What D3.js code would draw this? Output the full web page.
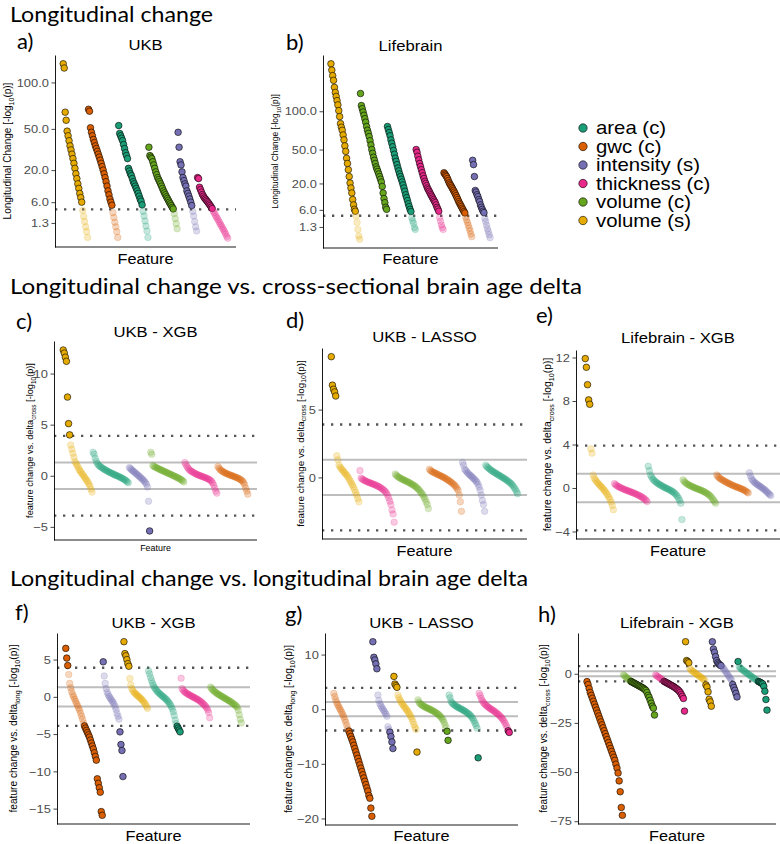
<!DOCTYPE html>
<html><head><meta charset="utf-8">
<script src="https://cdn.jsdelivr.net/npm/d3@7"></script>
<style>body{margin:0;background:#fff}</style>
</head><body>
<svg id="chart" width="780" height="844" xmlns="http://www.w3.org/2000/svg"></svg>
<script>
// ---------- categories ----------
const groupKeys   = ["area", "gwc", "intensity", "thickness", "volc", "vols"];
const groupLabels = ["area (c)", "gwc (c)", "intensity (s)", "thickness (c)", "volume (c)", "volume (s)"];
const groupColors = ["#1B9E77", "#D95F02", "#7570B3", "#E7298A", "#66A61E", "#E6AB02"];

const sectionTitles = ["Longitudinal change",
  "Longitudinal change vs. cross-sectional brain age delta",
  "Longitudinal change vs. longitudinal brain age delta"];
const panelLetters = ["a)", "b)", "c)", "d)", "e)", "f)", "g)", "h)"];
const panelTitles = ["UKB", "Lifebrain", "UKB - XGB", "UKB - LASSO", "Lifebrain - XGB", "UKB - XGB", "UKB - LASSO", "Lifebrain - XGB"];

// thresholds
const sigLong = 4.0;      // dotted line, panels a-b
const sigDelta = 3.9;     // dotted lines, panels c-h
const nominal = 1.3;      // solid grey lines, panels c-h

// tick labels
const ticks_ab = [1.3, 6, 20, 50, 100];
const ticks_c = [-5, 0, 5, 10];
const ticks_d = [0, 5];
const ticks_e = [-4, 0, 4, 8, 12];
const ticks_f = [-15, -10, -5, 0, 5];
const ticks_g = [-20, -10, 0, 10];
const ticks_h = [-75, -50, -25, 0];

// ---------- panel a: UKB longitudinal change ----------
const a_order = ["vols", "gwc", "area", "volc", "intensity", "thickness"];
const a_vols = [125, 119, 66, 58, 48, 44, 40, 36, 33, 30, 27, 24, 21, 18, 15.5, 13, 11, 9, 7.5, 6, 3.7, 2.4, 1.5, 0.8, 0.35, 0.05];
const a_gwc = [69, 67, 51, 47, 44, 41, 38.5, 36, 34, 32, 30, 28, 26, 24, 22, 20, 18, 16, 14, 12, 10, 8.5, 7, 6, 5.1, 3.2, 2.2, 1.4, 0.8, 0.35, 0.05];
const a_area = [53, 46, 44, 42, 40, 37, 34, 31, 29, 27, 21, 19.5, 18, 17, 15.5, 14, 13, 12, 11, 10, 9, 8, 7, 6.3, 5.2, 3.5, 2.5, 1.6, 0.9, 0.4, 0.05];
const a_volc = [35, 29, 28, 27, 25, 23, 21, 19, 17.5, 16, 15, 14, 13, 12, 11, 10, 9.2, 8.5, 7.8, 7.2, 6.6, 6, 5.5, 5, 4.5, 4.1, 3, 2, 1.2, 0.6];
const a_intensity = [47, 35, 25, 23, 19, 16, 14.5, 13, 12, 10, 9, 8, 7, 6, 5, 3.5, 2.5, 1.5, 0.8, 0.4];
const a_thickness = [16, 15.5, 11.5, 10.5, 9.5, 8.6, 8, 7.4, 7, 6.6, 6.2, 5.8, 5.4, 5, 4.6, 4.2, 3.6, 3.2, 2.8, 2.4, 2.1, 1.8, 1.5, 1.2, 1.0, 0.8, 0.6, 0.45, 0.3, 0.18, 0.08, 0.03];

// ---------- panel b: Lifebrain longitudinal change ----------
const b_order = ["vols", "volc", "area", "thickness", "gwc", "intensity"];
const b_vols = [186, 173, 162, 153, 140, 131, 124, 117, 110, 101, 92, 82, 77, 73, 67, 61, 54, 48, 41, 36, 30.5, 25, 20.3, 17, 14, 10.5, 8, 6.2, 5.5, 3.9, 2.2, 0.9, 0.2, 0.04];
const b_volc = [129, 109, 104, 99, 94, 89, 84, 78, 73, 69, 65, 60, 55, 50, 46, 42, 39, 36, 33, 31, 29, 27, 25, 23, 21, 18, 14, 11, 9, 7, 6.2];
const b_area = [78, 74, 70, 66, 61, 57, 53, 49, 45, 41, 38, 35, 32, 29.5, 27, 25, 23, 21, 19, 17, 15, 13, 11.5, 10, 8.5, 7.3, 6.2, 5.4, 3.4, 2.6, 2, 1.2, 0.9];
const b_thickness = [50, 47, 43, 39.4, 36, 33.3, 30.5, 28, 25.5, 23.5, 21.5, 20, 18.5, 17, 16, 15, 14, 13, 12.2, 11.3, 10.5, 9.7, 9, 8, 7, 6.3, 5.5, 3.5, 2.5, 1.7, 1.2, 0.9];
const b_gwc = [28, 27, 26, 25, 23.5, 22, 20.5, 19.5, 18.5, 17.5, 16.5, 15.5, 14.5, 13.5, 12.5, 11.5, 10.5, 9.5, 8.7, 8, 7.3, 6.6, 6, 5.4, 4.9, 3.6, 2.8, 2.2, 1.6, 1.1, 0.7, 0.35, 0.15];
const b_intensity = [39, 35, 25, 15.5, 14.5, 13, 12, 10.5, 9.5, 8, 7, 6.2, 5.5, 5, 3.2, 2.4, 1.6, 1.0, 0.6, 0.3, 0.1];

// ---------- panel c: UKB - XGB, vs cross-sectional delta ----------
const c_order = ["vols", "area", "intensity", "volc", "thickness", "gwc"];
const c_vols = [12.3, 12.0, 11.6, 11.2, 7.7, 5.1, 4.0, 3.0, 2.6, 2.2, 1.8, 1.4, 1.2, 1.0, 0.8, 0.6, 0.45, 0.3, 0.15, 0, -0.15, -0.3, -0.45, -0.6, -0.8, -1.0, -1.3, -1.6];
const c_area = [2.3, 2.1, 1.7, 1.4, 1.2, 1.05, 0.95, 0.87, 0.8, 0.73, 0.66, 0.6, 0.54, 0.48, 0.42, 0.36, 0.31, 0.26, 0.21, 0.16, 0.11, 0.06, 0.02, -0.03, -0.08, -0.13, -0.18, -0.23, -0.29, -0.35, -0.42, -0.5, -0.59, -0.68];
const c_intensity = [0.8, 0.7, 0.6, 0.5, 0.42, 0.33, 0.24, 0.15, 0.06, -0.04, -0.13, -0.22, -0.32, -0.42, -0.53, -0.66, -0.82, -1.1, -2.5, -5.4];
const c_volc = [2.3, 2.1, 1.0, 0.92, 0.86, 0.8, 0.75, 0.7, 0.65, 0.6, 0.55, 0.5, 0.45, 0.41, 0.36, 0.31, 0.26, 0.22, 0.17, 0.12, 0.07, 0.02, -0.03, -0.08, -0.13, -0.18, -0.23, -0.29, -0.35, -0.42, -0.5, -0.6];
const c_thickness = [1.3, 1.1, 0.9, 0.75, 0.62, 0.52, 0.45, 0.38, 0.32, 0.26, 0.2, 0.15, 0.1, 0.06, 0.02, -0.02, -0.06, -0.1, -0.14, -0.18, -0.22, -0.27, -0.32, -0.38, -0.45, -0.55, -0.7, -0.9, -1.2, -1.5, -1.7];
const c_gwc = [0.9, 0.75, 0.62, 0.52, 0.45, 0.38, 0.32, 0.27, 0.22, 0.17, 0.13, 0.09, 0.05, 0.01, -0.03, -0.07, -0.11, -0.15, -0.2, -0.25, -0.3, -0.36, -0.43, -0.52, -0.65, -0.85, -1.2, -1.5, -1.8];

// ---------- panel d: UKB - LASSO, vs cross-sectional delta ----------
const d_order = ["vols", "thickness", "volc", "gwc", "intensity", "area"];
const d_vols = [8.9, 6.8, 6.5, 6.3, 6.0, 1.6, 1.3, 0.9, 0.75, 0.65, 0.55, 0.45, 0.35, 0.25, 0.15, 0.05, -0.1, -0.25, -0.4, -0.55, -0.7, -0.9, -1.1, -1.3, -1.55, -1.8];
const d_thickness = [0.5, -0.05, -0.12, -0.18, -0.22, -0.26, -0.3, -0.34, -0.37, -0.4, -0.43, -0.46, -0.5, -0.53, -0.56, -0.6, -0.64, -0.68, -0.73, -0.78, -0.84, -0.9, -0.97, -1.05, -1.15, -1.3, -1.5, -1.75, -2.0, -2.4, -2.7, -3.3];
const d_volc = [0.25, 0.15, 0.08, 0.02, -0.03, -0.08, -0.12, -0.16, -0.2, -0.24, -0.28, -0.32, -0.36, -0.4, -0.45, -0.5, -0.55, -0.6, -0.66, -0.72, -0.8, -0.88, -0.97, -1.07, -1.18, -1.3, -1.45, -1.6, -1.8, -2.0, -2.3];
const d_gwc = [0.6, 0.5, 0.45, 0.4, 0.36, 0.32, 0.28, 0.24, 0.2, 0.16, 0.12, 0.08, 0.04, 0, -0.05, -0.1, -0.15, -0.2, -0.26, -0.32, -0.38, -0.45, -0.52, -0.6, -0.7, -0.82, -0.95, -1.3, -1.8, -2.5];
const d_intensity = [1.1, 0.9, 0.6, 0.5, 0.4, 0.3, 0.22, 0.15, 0.08, 0, -0.08, -0.16, -0.25, -0.35, -0.5, -0.7, -0.95, -1.3, -1.7, -2.0, -2.5];
const d_area = [0.9, 0.8, 0.72, 0.65, 0.58, 0.52, 0.46, 0.41, 0.36, 0.31, 0.26, 0.21, 0.16, 0.11, 0.06, 0.01, -0.04, -0.09, -0.14, -0.2, -0.26, -0.32, -0.39, -0.46, -0.55, -0.65, -0.77, -0.9, -1.05, -1.2];

// ---------- panel e: Lifebrain - XGB, vs cross-sectional delta ----------
const e_order = ["vols", "thickness", "area", "volc", "gwc", "intensity"];
const e_vols = [11.9, 11.1, 9.5, 8.1, 7.7, 3.6, 3.2, 1.2, 0.9, 0.75, 0.6, 0.48, 0.36, 0.25, 0.14, 0.03, -0.1, -0.22, -0.36, -0.5, -0.66, -0.85, -1.05, -1.3, -1.6, -2.0];
const e_thickness = [0.4, 0.3, 0.22, 0.15, 0.1, 0.05, 0, -0.05, -0.1, -0.14, -0.18, -0.22, -0.26, -0.3, -0.34, -0.38, -0.42, -0.46, -0.5, -0.55, -0.6, -0.65, -0.7, -0.76, -0.82, -0.88, -0.95, -1.03, -1.12, -1.25];
const e_area = [2.0, 1.6, 1.2, 1.0, 0.85, 0.72, 0.62, 0.54, 0.46, 0.39, 0.32, 0.26, 0.2, 0.14, 0.08, 0.03, -0.02, -0.07, -0.12, -0.17, -0.23, -0.29, -0.36, -0.44, -0.53, -0.64, -0.78, -0.95, -1.15, -1.4, -2.9];
const e_volc = [0.75, 0.6, 0.5, 0.42, 0.35, 0.29, 0.23, 0.18, 0.13, 0.08, 0.03, -0.01, -0.05, -0.09, -0.13, -0.17, -0.21, -0.26, -0.31, -0.36, -0.42, -0.48, -0.55, -0.63, -0.72, -0.83, -0.96, -1.1, -1.25, -1.4];
const e_gwc = [1.2, 1.05, 0.95, 0.87, 0.8, 0.74, 0.68, 0.62, 0.56, 0.5, 0.45, 0.4, 0.35, 0.3, 0.25, 0.2, 0.16, 0.12, 0.08, 0.04, 0, -0.04, -0.08, -0.13, -0.18, -0.24, -0.3, -0.38, -0.45];
const e_intensity = [1.4, 1.1, 0.85, 0.7, 0.58, 0.48, 0.4, 0.32, 0.25, 0.18, 0.11, 0.04, -0.04, -0.12, -0.2, -0.3, -0.4, -0.5, -0.6, -0.7];

// ---------- panel f: UKB - XGB, vs longitudinal delta ----------
const f_order = ["gwc", "intensity", "vols", "area", "thickness", "volc"];
const f_gwc = [6.5, 5.2, 4.2, 3.0, 1.8, 1.2, 0.7, 0.3, 0, -0.3, -0.6, -0.9, -1.2, -1.5, -1.8, -2.2, -2.6, -3.0, -3.5, -3.9, -4.2, -4.5, -4.8, -5.1, -5.4, -5.8, -6.2, -6.6, -7.0, -7.5, -8.0, -8.5, -11.0, -11.6, -12.2, -12.8, -15.4, -15.9];
const f_intensity = [4.7, 2.8, 1.8, 1.1, 0.6, 0.3, 0.05, -0.15, -0.35, -0.55, -0.75, -1.0, -1.3, -1.7, -2.2, -2.6, -3.0, -4.7, -6.4, -7.2, -10.7];
const f_vols = [7.4, 5.8, 5.5, 5.0, 4.45, 4.1, 2.45, 1.6, 1.1, 0.85, 0.65, 0.5, 0.38, 0.26, 0.14, 0.02, -0.1, -0.22, -0.35, -0.5, -0.66, -0.85, -1.05, -1.3, -1.55];
const f_area = [3.5, 3.1, 2.6, 2.2, 1.8, 1.5, 1.25, 1.05, 0.88, 0.72, 0.58, 0.45, 0.33, 0.21, 0.1, -0.01, -0.12, -0.24, -0.37, -0.51, -0.67, -0.85, -1.05, -1.3, -1.6, -2.0, -2.5, -3.1, -3.6, -3.95, -4.2, -4.45, -4.7];
const f_thickness = [2.5, 1.1, 0.9, 0.75, 0.63, 0.53, 0.44, 0.36, 0.28, 0.2, 0.13, 0.06, -0.01, -0.08, -0.15, -0.22, -0.3, -0.38, -0.46, -0.55, -0.65, -0.76, -0.88, -1.01, -1.15, -1.3, -1.5, -1.75, -2.1, -2.8];
const f_volc = [1.3, 1.1, 0.95, 0.82, 0.7, 0.6, 0.5, 0.4, 0.32, 0.24, 0.16, 0.08, 0, -0.08, -0.16, -0.24, -0.32, -0.4, -0.48, -0.56, -0.64, -0.73, -0.82, -0.92, -1.02, -1.13, -1.25, -1.4, -1.8, -2.4, -3.0, -3.5];

// ---------- panel g: UKB - LASSO, vs longitudinal delta ----------
const g_order = ["gwc", "intensity", "vols", "volc", "area", "thickness"];
const g_gwc = [2.9, 2.3, 1.7, 1.2, 0.8, 0.45, 0.1, -0.25, -0.6, -1.0, -1.4, -1.9, -2.4, -3.0, -3.6, -4.0, -4.5, -5.0, -5.5, -6.0, -6.6, -7.2, -7.8, -8.4, -9.0, -9.6, -10.2, -10.8, -11.4, -12.0, -12.6, -13.2, -13.8, -14.4, -15.0, -15.8, -16.3, -18.1, -19.6];
const g_intensity = [12.35, 9.5, 9.0, 8.3, 7.4, 2.6, 1.6, 1.0, 0.6, 0.3, 0, -0.3, -0.6, -0.9, -1.3, -3.2, -3.7, -4.2, -5.0, -6.0, -7.2];
const g_vols = [6.0, 4.6, 4.3, 4.0, 2.6, 2.1, 1.7, 1.35, 1.05, 0.8, 0.55, 0.3, 0.05, -0.2, -0.45, -0.75, -1.05, -1.4, -1.8, -2.3, -2.8, -3.3, -3.7, -7.85];
const g_volc = [1.7, 1.3, 1.05, 0.88, 0.74, 0.62, 0.51, 0.41, 0.32, 0.23, 0.14, 0.05, -0.04, -0.13, -0.22, -0.32, -0.42, -0.53, -0.65, -0.78, -0.92, -1.08, -1.26, -1.46, -1.7, -2.0, -2.4, -2.9, -3.4, -4.05, -5.7];
const g_area = [2.6, 2.1, 1.4, 1.15, 0.95, 0.8, 0.67, 0.55, 0.44, 0.33, 0.23, 0.13, 0.03, -0.07, -0.17, -0.28, -0.39, -0.51, -0.64, -0.78, -0.93, -1.1, -1.3, -1.55, -1.85, -2.2, -2.6, -3.0, -3.5, -8.9];
const g_thickness = [2.9, 2.5, 2.0, 1.6, 1.3, 1.05, 0.85, 0.68, 0.52, 0.38, 0.25, 0.12, 0, -0.12, -0.24, -0.37, -0.5, -0.64, -0.79, -0.95, -1.12, -1.3, -1.5, -1.72, -1.96, -2.25, -2.6, -3.0, -3.4, -3.95, -4.25];

// ---------- panel h: Lifebrain - XGB, vs longitudinal delta ----------
const h_order = ["gwc", "volc", "thickness", "vols", "intensity", "area"];
const h_gwc = [-4.0, -5.5, -7.5, -9.5, -11, -12.5, -14, -15.5, -17, -18.5, -20, -21.5, -23, -24.5, -26, -27.5, -29, -30.5, -32, -33.5, -35, -36.5, -38, -39.5, -41, -42.5, -44, -46, -48, -50.5, -54.5, -60, -68, -72];
const h_volc = [-0.5, -1.0, -1.5, -2.0, -2.5, -3.0, -3.5, -3.9, -4.2, -4.5, -4.8, -5.1, -5.4, -5.7, -6.0, -6.3, -6.6, -6.9, -7.2, -7.6, -8.0, -8.5, -9.5, -11, -12, -13.5, -15, -16.5, -17.5, -21];
const h_thickness = [-0.6, -1.0, -1.4, -1.8, -2.2, -2.6, -3.0, -3.4, -3.9, -4.2, -4.5, -4.8, -5.1, -5.4, -5.7, -6.0, -6.3, -6.6, -7.0, -7.4, -7.8, -8.3, -8.8, -9.5, -10.5, -11.5, -12.6, -19];
const h_vols = [16.3, 6.7, 6.2, 5.6, 2.8, 2.0, 1.5, 1.1, 0.7, 0.3, -0.1, -0.5, -0.9, -1.3, -1.7, -2.1, -2.5, -3.0, -3.5, -5.7, -6.7, -9.2, -13.0, -14.3, -16.5];
const h_intensity = [16.3, 12.6, 10.9, 8.7, 6.7, 5.6, 5.0, 4.5, 4.1, 3.7, 3.0, 2.2, 1.4, 0.6, -0.2, -1.0, -1.8, -2.6, -3.3, -5.5, -7.0, -8.4, -10.0, -11.8];
const h_area = [6.2, 3.6, 3.0, 2.5, 2.0, 1.6, 1.2, 0.8, 0.4, 0, -0.4, -0.8, -1.2, -1.6, -2.0, -2.4, -2.8, -3.2, -3.6, -3.95, -4.2, -4.5, -4.8, -5.2, -6.4, -8.9, -13.1, -18.5];

// ---------- drawing ----------
const svg = d3.select("#chart");
const SANS = "'Liberation Sans', Arial, Helvetica, sans-serif";
const TITLEF = "Lato, 'Open Sans', sans-serif";
const colorOf = k => groupColors[groupKeys.indexOf(k)];

function label(x, y, str, size, o = {}) {
  const t = svg.append("text")
    .attr("transform", `translate(${x},${y}) scale(${o.sx || 1},1)`)
    .attr("font-family", o.family || SANS)
    .attr("font-size", size)
    .attr("text-anchor", o.anchor || "start")
    .attr("fill", o.fill || "#000")
    .text(str);
  if (o.len) t.attr("textLength", o.len).attr("lengthAdjust", "spacingAndGlyphs");
  return t;
}

function yTitle(x, yc, parts, size) {
  const t = svg.append("text")
    .attr("transform", `translate(${x},${yc}) rotate(-90)`)
    .attr("text-anchor", "middle")
    .attr("font-family", SANS)
    .attr("font-size", size)
    .attr("fill", "#000");
  let lastSub = false;
  parts.forEach(([s, sub]) => {
    const ts = t.append("tspan").text(s);
    if (sub) { ts.attr("font-size", size * 0.7).attr("dy", size * 0.3); }
    else if (lastSub) { ts.attr("dy", -size * 0.3); }
    lastSub = sub;
  });
}

// section titles
label(10, 22, sectionTitles[0], 22, { family: TITLEF, len: 203 });
label(10, 294, sectionTitles[1], 22, { family: TITLEF, len: 572 });
label(10, 586, sectionTitles[2], 22, { family: TITLEF, len: 518 });

const ylabLong = [["Longitudinal Change [-log", 0], ["10", 1], ["(p)]", 0]];
const ylabCross = [["feature change vs. delta", 0], ["cross", 1], [" [-log", 0], ["10", 1], ["(p)]", 0]];
const ylabLongDelta = [["feature change vs. delta", 0], ["long", 1], [" [-log", 0], ["10", 1], ["(p)]", 0]];

const panels = [
  { order: a_order, data: { vols: a_vols, gwc: a_gwc, area: a_area, volc: a_volc, intensity: a_intensity, thickness: a_thickness },
    sqrt: true, thr: sigLong, ticks: ticks_ab, fmt: d3.format(".1f"),
    x0: 55, x1: 236, y0: 55, y1: 247, tY: 50, lx: 17, lY: 49, yl: ylabLong, ylx: 10.5, yls: 10, fY: 264, fs: 15.5 },
  { order: b_order, data: { vols: b_vols, volc: b_volc, area: b_area, thickness: b_thickness, gwc: b_gwc, intensity: b_intensity },
    sqrt: true, thr: sigLong, ticks: ticks_ab, fmt: d3.format(".1f"),
    x0: 323, x1: 498, y0: 55, y1: 248, tY: 51, lx: 286, lY: 50, yl: ylabLong, ylx: 278, yls: 8.4, fY: 264, fs: 15.5 },
  { order: c_order, data: { vols: c_vols, area: c_area, intensity: c_intensity, volc: c_volc, thickness: c_thickness, gwc: c_gwc },
    sqrt: false, thr: sigDelta, ticks: ticks_c, fmt: d3.format("d"),
    x0: 54, x1: 257, y0: 341, y1: 540, tY: 337, lx: 16, lY: 329, yl: ylabCross, ylx: 33, yls: 9.2, fY: 551, fs: 8.5 },
  { order: d_order, data: { vols: d_vols, thickness: d_thickness, volc: d_volc, gwc: d_gwc, intensity: d_intensity, area: d_area },
    sqrt: false, thr: sigDelta, ticks: ticks_d, fmt: d3.format("d"),
    x0: 322, x1: 527, y0: 348, y1: 539, tY: 342, lx: 286, lY: 328, yl: ylabCross, ylx: 303.5, yls: 9.9, fY: 556, fs: 15.5 },
  { order: e_order, data: { vols: e_vols, thickness: e_thickness, area: e_area, volc: e_volc, gwc: e_gwc, intensity: e_intensity },
    sqrt: false, thr: sigDelta, ticks: ticks_e, fmt: d3.format("d"),
    x0: 576, x1: 780, y0: 350, y1: 539, tY: 343, lx: 536, lY: 323, yl: ylabCross, ylx: 550.5, yls: 10.3, fY: 556, fs: 15.5 },
  { order: f_order, data: { gwc: f_gwc, intensity: f_intensity, vols: f_vols, area: f_area, thickness: f_thickness, volc: f_volc },
    sqrt: false, thr: sigDelta, ticks: ticks_f, fmt: d3.format("d"),
    x0: 57, x1: 250, y0: 633, y1: 824, tY: 628, lx: 15, lY: 620, yl: ylabLongDelta, ylx: 16.5, yls: 10.2, fY: 841, fs: 15.5 },
  { order: g_order, data: { gwc: g_gwc, intensity: g_intensity, vols: g_vols, volc: g_volc, area: g_area, thickness: g_thickness },
    sqrt: false, thr: sigDelta, ticks: ticks_g, fmt: d3.format("d"),
    x0: 325, x1: 518, y0: 633, y1: 825, tY: 628, lx: 285, lY: 622, yl: ylabLongDelta, ylx: 291.5, yls: 10.2, fY: 841, fs: 15.5 },
  { order: h_order, data: { gwc: h_gwc, volc: h_volc, thickness: h_thickness, vols: h_vols, intensity: h_intensity, area: h_area },
    sqrt: false, thr: sigDelta, ticks: ticks_h, fmt: d3.format("d"),
    x0: 578, x1: 776, y0: 633, y1: 824, tY: 628, lx: 538, lY: 622, yl: ylabCross, ylx: 546.5, yls: 10, fY: 841, fs: 15.5 }
];

panels.forEach((p, pi) => {
  const g = svg.append("g");
  const pts = [];
  p.order.forEach(k => p.data[k].forEach(v => pts.push({ k, v })));
  const N = pts.length;
  const x = d3.scaleLinear().domain([-0.05 * (N - 1), 1.05 * (N - 1)]).range([p.x0, p.x1]);
  let y;
  if (p.sqrt) {
    const t = pts.map(d => Math.sqrt(d.v));
    const tmin = d3.min(t), tmax = d3.max(t), pad = 0.05 * (tmax - tmin);
    const inv = u => (u < 0 ? -u * u : u * u);
    y = d3.scalePow().exponent(0.5).domain([inv(tmin - pad), inv(tmax + pad)]).range([p.y1, p.y0]);
  } else {
    const vals = pts.map(d => d.v).concat([p.thr, -p.thr]);
    const [mn, mx] = d3.extent(vals);
    const pad = 0.05 * (mx - mn);
    y = d3.scaleLinear().domain([mn - pad, mx + pad]).range([p.y1, p.y0]);
  }

  // reference lines
  const hl = (v, dotted) => g.append("line")
    .attr("x1", p.x0).attr("x2", p.x1).attr("y1", y(v)).attr("y2", y(v))
    .attr("stroke", dotted ? "#555" : "#BDBDBD")
    .attr("stroke-width", dotted ? 2.3 : 2)
    .attr("stroke-dasharray", dotted ? "2.3,6.7" : null);
  if (p.sqrt) {
    hl(p.thr, true);
  } else {
    hl(nominal, false); hl(-nominal, false);
    hl(p.thr, true); hl(-p.thr, true);
  }

  // points
  g.selectAll("circle").data(pts).join("circle")
    .attr("cx", (d, i) => x(i))
    .attr("cy", d => y(d.v))
    .attr("r", 3.3)
    .attr("fill", d => colorOf(d.k))
    .attr("fill-opacity", d => (Math.abs(d.v) >= p.thr ? 1 : 0.25))
    .attr("stroke", d => (Math.abs(d.v) >= p.thr ? "#000" : colorOf(d.k)))
    .attr("stroke-opacity", d => (Math.abs(d.v) >= p.thr ? 1 : 0.3))
    .attr("stroke-width", 0.6);

  // axes
  const ax = d3.axisLeft(y).tickValues(p.ticks).tickFormat(p.fmt)
    .tickSize(3.5).tickSizeOuter(0).tickPadding(2);
  const axg = g.append("g").attr("transform", `translate(${p.x0},0)`).call(ax);
  axg.select(".domain").attr("stroke", "#000").attr("stroke-width", 0.9);
  axg.selectAll(".tick line").attr("stroke", "#333").attr("stroke-width", 0.9);
  axg.selectAll(".tick text").attr("fill", "#4D4D4D").attr("font-size", 11.5)
    .attr("font-family", SANS).attr("transform", "scale(1.12,1)");
  g.append("line").attr("x1", p.x0).attr("x2", p.x1).attr("y1", p.y1).attr("y2", p.y1)
    .attr("stroke", "#000").attr("stroke-width", 0.9);

  // texts
  const cx = (p.x0 + p.x1) / 2;
  label(cx, p.tY, panelTitles[pi], 14.5, { anchor: "middle", sx: 1.15 });
  label(p.lx, p.lY, panelLetters[pi], 22, { family: TITLEF });
  label(cx, p.fY, "Feature", p.fs, { anchor: "middle", sx: 1.05 });
  yTitle(p.ylx, (p.y0 + p.y1) / 2, p.yl, p.yls);
});

// legend
const legX = 583, legY0 = 128, legStep = 18.5;
groupKeys.forEach((k, i) => {
  svg.append("circle").attr("cx", legX).attr("cy", legY0 + i * legStep).attr("r", 4.2)
    .attr("fill", groupColors[i]).attr("stroke", "#000").attr("stroke-width", 0.6);
  label(legX + 13, legY0 + i * legStep + 6.3, groupLabels[i], 17.7, { sx: 1.15 });
});
</script>
</body></html>
